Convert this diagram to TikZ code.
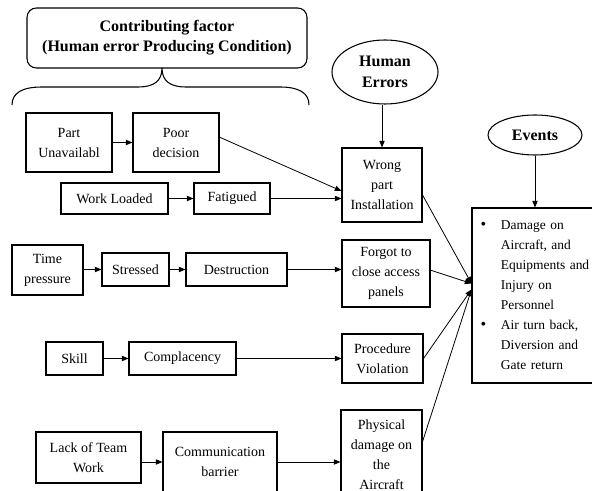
\documentclass[tikz,border=0pt]{standalone}
\usepackage{fontspec}
\setmainfont{Liberation Serif}
\usepackage{tikz}
\usetikzlibrary{arrows.meta,shapes.geometric}

\begin{document}
\begin{tikzpicture}[x=0.75pt,y=-0.75pt,
        box/.style={draw,line width=0.8pt,align=center,inner sep=1pt,font=\fontsize{10.5}{15}\selectfont},
        blob/.style={draw,ellipse,line width=0.8pt,align=center,inner sep=0pt,font=\bfseries\fontsize{12}{15.75}\selectfont},
        arr/.style={-{Triangle[length=5pt,width=4pt]},line width=0.6pt}]
                \useasboundingbox (0,0) rectangle (592,491);
                \clip (0,0) rectangle (592,491);
                % header and brace
                \node[box,rounded corners=7pt,minimum width=210pt,minimum height=45pt,font=\bfseries\fontsize{12}{15}\selectfont] (contrib) at (167,38) {Contributing factor\\(Human error Producing Condition)};
                \draw[line width=0.8pt] (12,105) .. controls (12,93) and (22,87) .. (42,87) -- (138,87) .. controls (154,87) and (162,81) .. (162,68) .. controls (162,81) and (170,87) .. (186,87) -- (280,87) .. controls (299,87) and (309,93) .. (309,105);
                % contributing factors
                \node[box,minimum width=64.5pt,minimum height=44.25pt] (part) at (69,142.5) {Part\\Unavailabl};
                \node[box,minimum width=64.5pt,minimum height=44.25pt] (poor) at (176,142.5) {Poor\\decision};
                \node[box,minimum width=80.25pt,minimum height=23.25pt] (work) at (114.5,198.5) {Work Loaded};
                \node[box,minimum width=57pt,minimum height=23.25pt] (fatigued) at (232,198.5) {Fatigued};
                \node[box,minimum width=53.25pt,minimum height=37.5pt] (time) at (47.5,270) {Time\\pressure};
                \node[box,minimum width=50.25pt,minimum height=24.75pt] (stressed) at (135.5,269.5) {Stressed};
                \node[box,minimum width=75.75pt,minimum height=24.75pt] (destruction) at (236.5,269.5) {Destruction};
                \node[box,minimum width=42.75pt,minimum height=24.75pt] (skill) at (74.5,358.5) {Skill};
                \node[box,minimum width=80.25pt,minimum height=24.75pt] (complacency) at (182.5,358.5) {Complacency};
                \node[box,minimum width=78.75pt,minimum height=38.25pt] (lack) at (88.5,457.5) {Lack of Team\\Work};
                \node[box,minimum width=85.5pt,minimum height=45pt] (comm) at (220,462) {Communication\\barrier};
                % human errors
                \node[blob,minimum width=79.5pt,minimum height=48pt] (human) at (385,72) {Human\\Errors};
                \node[box,minimum width=60pt,minimum height=55.5pt] (wrong) at (382,185) {Wrong\\part\\Installation};
                \node[box,minimum width=66pt,minimum height=50.25pt] (forgot) at (386,273.5) {Forgot to\\close access\\panels};
                \node[box,minimum width=60.75pt,minimum height=36.75pt] (proc) at (382.5,358.5) {Procedure\\Violation};
                \node[box,minimum width=60.75pt,minimum height=67.5pt] (phys) at (381.5,455) {Physical\\damage on\\the\\Aircraft};
                % events
                \node[blob,minimum width=70.5pt,minimum height=30pt] (evt) at (535,135) {Events};
                \node[box,minimum width=96pt,minimum height=131.25pt,text width=83pt,align=left,inner xsep=6.5pt,font=\fontsize{10.1}{15}\selectfont] (evbox) at (536,295.5) {%
                    \begin{tabular}{@{}l@{\hspace{11pt}}l@{}}
                    {\large\textbullet} & Damage on\\
                     & Aircraft, and\\
                     & Equipments and\\
                     & Injury on\\
                     & Personnel\\
                    {\large\textbullet} & Air turn back,\\
                     & Diversion and\\
                     & Gate return
                    \end{tabular}};
                \coordinate (hubA) at ([yshift=9pt]evbox.west);
                \coordinate (hubB) at ([yshift=4.5pt]evbox.west);
                % connectors
                \draw[arr] (part) -- (poor);
                \draw[arr] (work) -- (fatigued);
                \draw[arr] ([yshift=4pt]poor.east) -- ([yshift=-4.5pt]wrong.west);
                \draw[arr] (fatigued.east) -- (fatigued.east -| wrong.west);
                \draw[arr] (time.east |- stressed.west) -- (stressed.west);
                \draw[arr] (stressed) -- (destruction);
                \draw[arr] (destruction.east) -- (destruction.east -| forgot.west);
                \draw[arr] (skill) -- (complacency);
                \draw[arr] (complacency) -- (proc);
                \draw[arr] (lack.east |- comm.west) -- (comm.west);
                \draw[arr] (comm.east) -- (comm.east -| phys.west);
                \draw[arr] (wrong.north |- human.south) -- (wrong.north);
                \draw[arr] (evt.south) -- (evt.south |- evbox.north);
                \draw[arr] ([yshift=-7.5pt]wrong.east) -- (hubA);
                \draw[arr] ([yshift=2.5pt]forgot.east) -- (hubA);
                \draw[arr] (proc.east) -- (hubB);
                \draw[arr] ([yshift=10pt]phys.east) -- (hubB);
            \end{tikzpicture}
\end{document}
